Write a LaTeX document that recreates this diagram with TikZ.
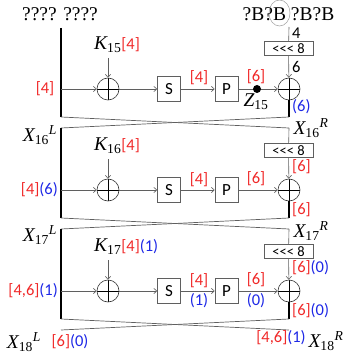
\documentclass[tikz,border=0pt]{standalone}
\usepackage{fontspec}
\setmainfont{Liberation Serif}
\newfontfamily\calib{Carlito}
\usetikzlibrary{arrows.meta,shapes.geometric}
\definecolor{myred}{RGB}{240,40,40}
\definecolor{myblue}{RGB}{30,40,230}
\definecolor{lgray}{RGB}{95,95,95}
\newcommand{\redl}[1]{\textcolor{myred}{#1}}
\newcommand{\bluel}[1]{\textcolor{myblue}{#1}}
\begin{document}
\begin{tikzpicture}[x=1pt,y=-1pt,
  lab/.style={font=\calib\fontsize{16.5}{16.5}\selectfont, inner sep=0pt},
  ser/.style={font=\fontsize{19.5}{19.5}\selectfont, inner sep=0pt},
  xor/.style={circle, draw=black!80, line width=0.6pt, minimum size=22pt, inner sep=0pt,
    path picture={\draw[black, line width=0.9pt] (path picture bounding box.north) -- (path picture bounding box.south)
      (path picture bounding box.west) -- (path picture bounding box.east);}},
  sbox/.style={draw=lgray, line width=0.6pt, minimum width=23pt, minimum height=25pt, inner sep=0pt,
    font=\calib\fontsize{17}{17}\selectfont},
  rot/.style={draw=lgray, line width=0.6pt, minimum width=49pt, minimum height=13.5pt, inner sep=0pt,
    font=\calib\fontsize{14.5}{14.5}\selectfont},
  arr/.style={draw=lgray, line width=0.6pt, -{Straight Barb[length=3pt,width=5.5pt]}},
  gline/.style={draw=lgray, line width=0.6pt},
  bline/.style={draw=black, line width=1.2pt},
  crossl/.style={draw=lgray, line width=0.7pt},
  dot/.style={circle, fill=black, minimum size=8pt, inner sep=0pt}
]
\useasboundingbox (0,0) rectangle (347,358);

% ---------- top labels ----------
\node[ser] (topl) at (60,14) {???? ????};
\node[ser] (topr) at (288.5,14) {?B?B ?B?B};
\node[draw=lgray!60, line width=0.5pt, ellipse, minimum width=21pt, minimum height=26pt, inner sep=0pt] (ell) at (279.5,13) {};

% ---------- round 1 ----------
\coordinate (l1t) at (61,28);
\coordinate (l1b) at (61,117);
\coordinate (la1) at (61,89);
\node[xor] (xl1) at (108,89) {};
\node[ser, anchor=west] (k1) at (94,45) {$\mathit{K}_{\mathrm{15}}$\redl{\calib\fontsize{16.5}{16.5}\selectfont[4]}};
\coordinate (k1a) at (108,58);
\node[sbox] (s1) at (169,89) {S};
\node[sbox] (p1) at (226.5,89) {P};
\node[xor] (xr1) at (289,89) {};
\coordinate (rt1) at (289,27);
\node[rot] (rb1) at (288.5,48.5) {<<< 8};
\coordinate (rbot1) at (289,117);
\draw[bline] (l1t) -- (l1b);
\draw[arr] (la1) -- (xl1);
\draw[arr] (k1a) -- (xl1);
\draw[arr] (xl1) -- (s1);
\draw[arr] (s1) -- (p1);
\draw[arr] (p1) -- (xr1);
\node[dot] (d1) at (257,89) {};
\draw[gline] (rt1) -- (rb1);
\draw[arr] (rb1) -- (xr1);
\draw[bline] (xr1.south) -- (rbot1);
\node[lab] (in1) at (45,89) {\redl{[4]}};
\node[lab] (sp1) at (199,78) {\redl{[4]}};
\node[lab] (pz1) at (256,77) {\redl{[6]}};
\node[ser] (z1) at (256,102) {$\mathit{Z}_{\mathrm{15}}$};
\node[lab, anchor=west] (a1) at (292,33) {4};
\node[lab, anchor=west] (b1) at (292,67) {6};
\node[lab, anchor=west] (c1) at (292,107) {\bluel{(6)}};

% ---------- crossing 1 ----------
\coordinate (l2t) at (61,128);
\coordinate (rt2) at (289,128);
\draw[crossl] (l1b) -- (rt2);
\draw[crossl] (rbot1) -- (l2t);

% ---------- round 2 ----------
\coordinate (l2b) at (61,218);
\coordinate (la2) at (61,190);
\node[xor] (xl2) at (108,190) {};
\node[ser, anchor=west] (k2) at (94,146) {$\mathit{K}_{\mathrm{16}}$\redl{\calib\fontsize{16.5}{16.5}\selectfont[4]}};
\coordinate (k2a) at (108,159);
\node[sbox] (s2) at (169,190) {S};
\node[sbox] (p2) at (226.5,190) {P};
\node[xor] (xr2) at (289,190) {};
\node[rot] (rb2) at (288.5,150.5) {<<< 8};
\coordinate (rbot2) at (289,218);
\draw[bline] (l2t) -- (l2b);
\draw[arr] (la2) -- (xl2);
\draw[arr] (k2a) -- (xl2);
\draw[arr] (xl2) -- (s2);
\draw[arr] (s2) -- (p2);
\draw[arr] (p2) -- (xr2);
\draw[gline] (rt2) -- (rb2);
\draw[arr] (rb2) -- (xr2);
\draw[bline] (xr2.south) -- (rbot2);
\node[ser] (xl16) at (40,135) {$\mathit{X}_{\mathrm{16}}{}^{\mathit{L}}$};
\node[ser] (xr16) at (311,128) {$\mathit{X}_{\mathrm{16}}{}^{\mathit{R}}$};
\node[lab, anchor=east] (in2) at (58,190) {\redl{[4]}\bluel{(6)}};
\node[lab] (sp2) at (199,180) {\redl{[4]}};
\node[lab] (pz2) at (256,179) {\redl{[6]}};
\node[lab, anchor=west] (b2) at (292,167) {\redl{[6]}};
\node[lab, anchor=west] (c2) at (292,210) {\redl{[6]}};

% ---------- crossing 2 ----------
\coordinate (l3t) at (61,229);
\coordinate (rt3) at (289,229);
\draw[crossl] (l2b) -- (rt3);
\draw[crossl] (rbot2) -- (l3t);

% ---------- round 3 ----------
\coordinate (l3b) at (61,319);
\coordinate (la3) at (61,291);
\node[xor] (xl3) at (108,291) {};
\node[ser, anchor=west] (k3) at (94,247) {$\mathit{K}_{\mathrm{17}}$\calib\fontsize{16.5}{16.5}\selectfont\redl{[4]}\bluel{(1)}};
\coordinate (k3a) at (108,260);
\node[sbox] (s3) at (169,291) {S};
\node[sbox] (p3) at (226.5,291) {P};
\node[xor] (xr3) at (289,291) {};
\node[rot] (rb3) at (288.5,251.5) {<<< 8};
\coordinate (rbot3) at (289,319);
\draw[bline] (l3t) -- (l3b);
\draw[arr] (la3) -- (xl3);
\draw[arr] (k3a) -- (xl3);
\draw[arr] (xl3) -- (s3);
\draw[arr] (s3) -- (p3);
\draw[arr] (p3) -- (xr3);
\draw[gline] (rt3) -- (rb3);
\draw[arr] (rb3) -- (xr3);
\draw[bline] (xr3.south) -- (rbot3);
\node[ser] (xl17) at (40,235) {$\mathit{X}_{\mathrm{17}}{}^{\mathit{L}}$};
\node[ser] (xr17) at (311,231) {$\mathit{X}_{\mathrm{17}}{}^{\mathit{R}}$};
\node[lab, anchor=east] (in3) at (58,291) {\redl{[4,6]}\bluel{(1)}};
\node[lab] (sp3) at (199,281) {\redl{[4]}};
\node[lab] (sp3b) at (199,301) {\bluel{(1)}};
\node[lab] (pz3) at (256,280) {\redl{[6]}};
\node[lab] (pz3b) at (256,301) {\bluel{(0)}};
\node[lab, anchor=west] (b3) at (292,268) {\redl{[6]}\bluel{(0)}};
\node[lab, anchor=west] (c3) at (292,311) {\redl{[6]}\bluel{(0)}};

% ---------- crossing 3 ----------
\coordinate (l4t) at (61,330);
\coordinate (rt4) at (289,330);
\draw[crossl] (l3b) -- (rt4);
\draw[crossl] (rbot3) -- (l4t);

% ---------- bottom labels ----------
\node[ser] (xl18) at (24,342) {$\mathit{X}_{\mathrm{18}}{}^{\mathit{L}}$};
\node[lab] (o1) at (70,342) {\redl{[6]}\bluel{(0)}};
\node[lab] (o2) at (281,338) {\redl{[4,6]}\bluel{(1)}};
\node[ser] (xr18) at (326,341) {$\mathit{X}_{\mathrm{18}}{}^{\mathit{R}}$};
\end{tikzpicture}
\end{document}
